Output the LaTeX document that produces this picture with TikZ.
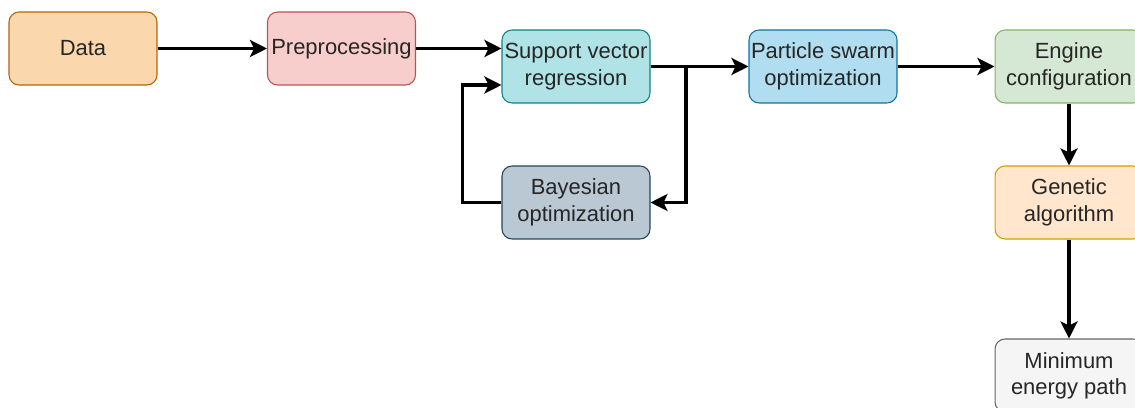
\documentclass[tikz,border=0pt]{standalone}
\usepackage{fontspec}
\setmainfont{Liberation Sans}
\usepackage{tikz}
\usetikzlibrary{calc,arrows.meta}
\usepackage{xcolor}

\definecolor{dataF}{HTML}{FAD7AC}\definecolor{dataD}{HTML}{B46504}
\definecolor{prepF}{HTML}{F8CECC}\definecolor{prepD}{HTML}{B85450}
\definecolor{svrF}{HTML}{B0E3E6}\definecolor{svrD}{HTML}{0E8088}
\definecolor{bayF}{HTML}{BAC8D3}\definecolor{bayD}{HTML}{23445D}
\definecolor{psoF}{HTML}{B1DDF0}\definecolor{psoD}{HTML}{10739E}
\definecolor{engF}{HTML}{D5E8D4}\definecolor{engD}{HTML}{82B366}
\definecolor{genF}{HTML}{FFE6CC}\definecolor{genD}{HTML}{D79B00}
\definecolor{minF}{HTML}{F5F5F5}\definecolor{minD}{HTML}{666666}

\tikzset{
  box/.style={rounded corners=0.2cm, line width=0.6pt, minimum width=2.96cm, minimum height=1.46cm,
    align=center, inner sep=1pt, font=\fontsize{12.5}{15}\selectfont, text=black!85},
  arr/.style={line width=2pt, -{Stealth[length=0.34cm,width=0.34cm,inset=0.08cm]}}
}

\begin{document}
\begin{tikzpicture}[x=0.02cm, y=-0.02cm]
\clip (0,0) rectangle (1135,408);

% boxes of the flow, at their pixel positions
\foreach \n/\x/\y/\c/\t in {data/83/48.5/data/Data, prep/341.5/48.5/prep/Preprocessing,
    svr/576/66.5/svr/Support vector\\regression, bay/576/202.5/bay/Bayesian\\optimization,
    pso/823/66.5/pso/Particle swarm\\optimization, eng/1069/66.5/eng/Engine\\configuration,
    gen/1069/202.5/gen/Genetic\\algorithm, min/1069/375.5/min/Minimum\\energy path} {
    \node[box, fill=\c F, draw=\c D] (\n) at (\x,\y) {\t};
}

\coordinate (split) at (686,66.5);

% connectors
\draw[arr] (data) -- (prep);
\draw[arr] (prep.east) -- (prep.east -| svr.west);
\draw[arr] (bay.west) -- ++(-39,0) |- ([yshift=-0.37cm]svr.west);
\draw[arr] (svr) -- (pso);
\draw[arr] (split) |- (bay.east);
\draw[arr] (pso) -- (eng);
\draw[arr] (eng) -- (gen);
\draw[arr] (gen) -- (min);

\end{tikzpicture}
\end{document}
